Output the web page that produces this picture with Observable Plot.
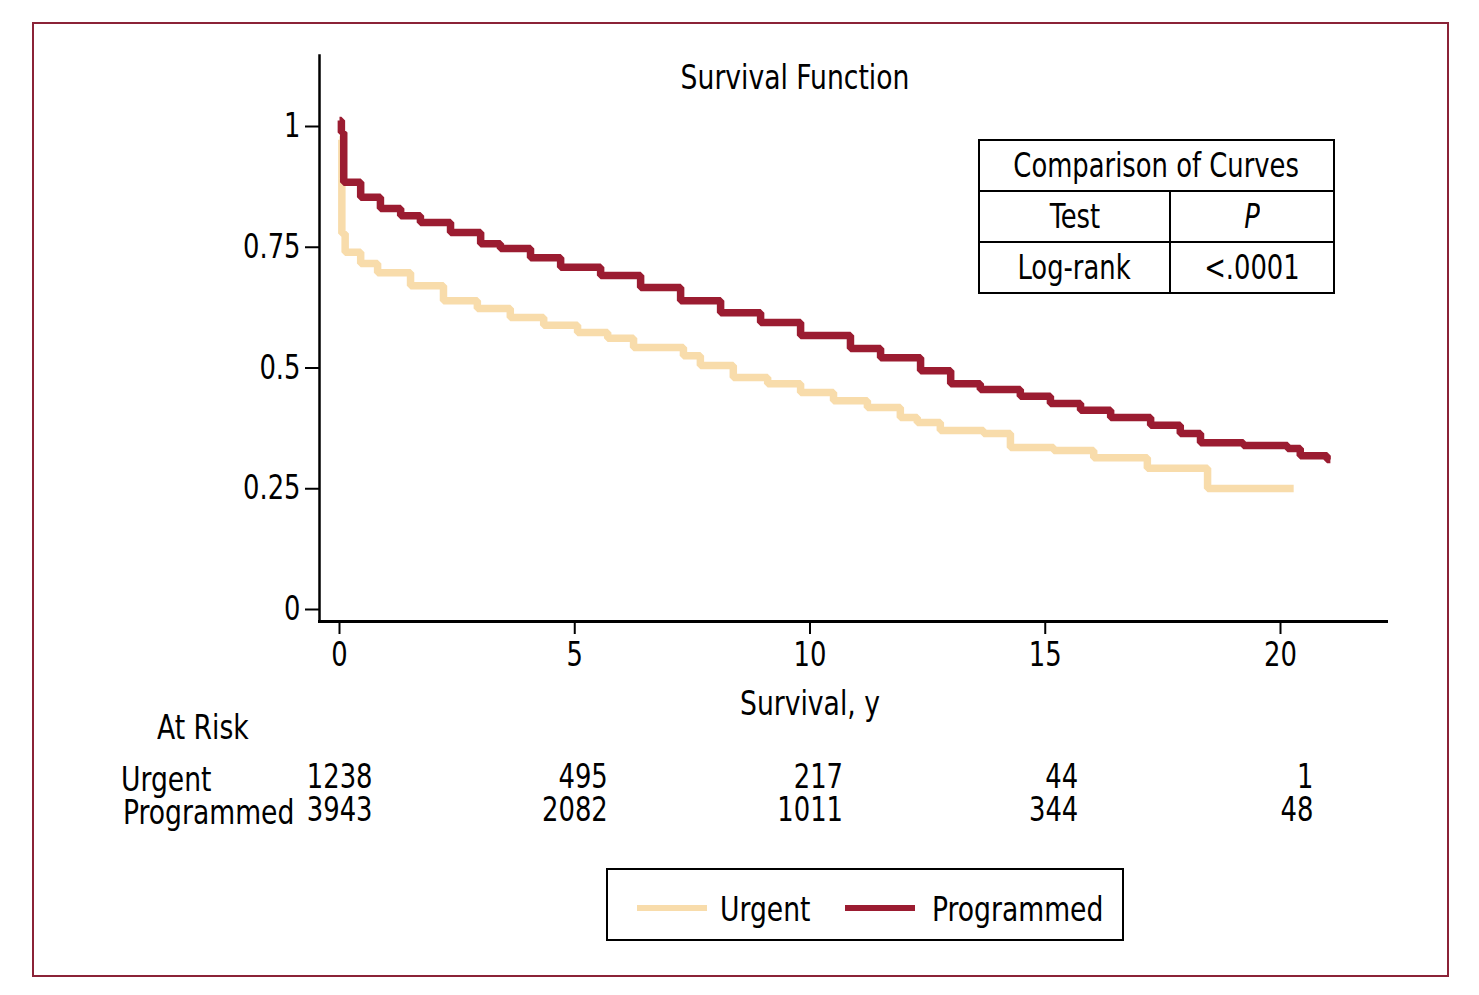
<!DOCTYPE html>
<html><head><meta charset="utf-8">
<script src="https://cdn.jsdelivr.net/npm/d3@7"></script>
<script src="https://cdn.jsdelivr.net/npm/@observablehq/plot@0.6"></script>
<style>
body{margin:0;background:#fff;}
#wrap{position:relative;width:1479px;height:995px;overflow:hidden;font-family:"Liberation Sans Narrow","Arial Narrow","DejaVu Sans Condensed",sans-serif;color:#000;}
#chart{position:absolute;left:0;top:0;}
#border{position:absolute;left:32px;top:22px;width:1413px;height:951px;border:2.5px solid #8b2337;pointer-events:none;}
.abs{position:absolute;white-space:nowrap;line-height:1;}
.sq{display:inline-block;transform:scaleX(0.87);transform-origin:center;white-space:nowrap;}
#cmp{position:absolute;left:978px;top:139px;border-collapse:collapse;font-size:33px;}
#cmp td{border:2px solid #000;text-align:center;padding:0;height:49px;}
#legend{position:absolute;left:606px;top:868px;width:514px;height:69px;border:2px solid #000;}
.sw{position:absolute;height:6px;width:70px;}
</style></head>
<body>
<div id="wrap">
  <div id="chart"></div>
  <div id="border"></div>
</div>
<script>
// ---- data ----
const groups = ["Urgent", "Programmed"];
const groupColors = ["#f8dcab", "#9b1c31"];

const urgentTime = [0, 0.05, 0.12, 0.45, 0.81, 1.51, 2.21, 2.93, 3.63, 4.34, 5.06, 5.70, 6.25, 7.31, 7.67, 8.37, 9.10, 9.80, 10.50, 11.22, 11.92, 12.28, 12.77, 13.69, 14.26, 15.18, 16.03, 17.17, 18.45, 20.28];
const urgentSurv = [0.96, 0.766, 0.727, 0.704, 0.685, 0.658, 0.627, 0.611, 0.592, 0.576, 0.561, 0.549, 0.530, 0.513, 0.493, 0.468, 0.455, 0.437, 0.420, 0.406, 0.385, 0.375, 0.358, 0.352, 0.323, 0.317, 0.302, 0.280, 0.238, 0.238];

const progTime = [0, 0.04, 0.09, 0.45, 0.87, 1.30, 1.72, 2.36, 3.00, 3.42, 4.06, 4.70, 5.55, 6.40, 7.25, 8.10, 8.95, 9.80, 10.86, 11.50, 12.35, 12.99, 13.62, 14.47, 15.11, 15.75, 16.39, 17.24, 17.87, 18.30, 19.21, 20.15, 20.42, 20.99, 21.06];
const progSurv = [1.0, 0.975, 0.872, 0.841, 0.818, 0.803, 0.789, 0.768, 0.745, 0.735, 0.716, 0.696, 0.679, 0.654, 0.627, 0.602, 0.582, 0.555, 0.528, 0.509, 0.482, 0.455, 0.443, 0.429, 0.414, 0.400, 0.385, 0.369, 0.352, 0.333, 0.327, 0.321, 0.306, 0.298, 0.298];

const xTicks = [0, 5, 10, 15, 20];
const yTicks = [0, 0.25, 0.5, 0.75, 1];
const yTickLabels = ["0", "0.25", "0.5", "0.75", "1"];
const atRiskTimes = [0, 5, 10, 15, 20];
const urgentAtRisk = [1238, 495, 217, 44, 1];
const programmedAtRisk = [3943, 2082, 1011, 344, 48];

const titleText = "Survival Function";
const xLabel = "Survival, y";
const atRiskLabel = "At Risk";
const cmpTitle = "Comparison of Curves";
const cmpHeader = ["Test", "P"];
const cmpRow = ["Log-rank", "<.0001"];

// ---- build tables ----
const survData = [
  ...urgentTime.map((t, i) => ({group: groups[0], t, s: urgentSurv[i]})),
  ...progTime.map((t, i) => ({group: groups[1], t, s: progSurv[i]}))
];
const riskData = [
  ...atRiskTimes.map((t, i) => ({row: groups[0], t, n: String(urgentAtRisk[i])})),
  ...atRiskTimes.map((t, i) => ({row: groups[1], t, n: String(programmedAtRisk[i])}))
];

const font = '"Liberation Sans Narrow","Arial Narrow","DejaVu Sans Condensed",sans-serif';
const W = 1479, H = 995;
const mL = 319, mT = 55, mR = W - 1386, mB = H - 621;
// pixel calibration: x 0 -> 339, 20 -> 1280; y 0 -> 603, 1 -> 120
const pxPerX = (1280 - 339) / 20, pxPerY = 603 - 120;
const xDomain = [-(339 - mL) / pxPerX, (W - mR - 339) / pxPerX];
const yDomain = [-(H - mB - 603) / pxPerY, (603 - mT) / pxPerY];

const plot = Plot.plot({
  width: W, height: H,
  marginLeft: mL, marginTop: mT, marginRight: mR, marginBottom: mB,
  style: {fontFamily: font, background: "transparent", color: "#000"},
  x: {domain: xDomain},
  y: {domain: yDomain},
  color: {domain: groups, range: groupColors},
  marks: [
    Plot.axisY({ticks: yTicks, tickFormat: (d) => yTickLabels[yTicks.indexOf(d)], tickSize: 14, tickPadding: 5, fontSize: 33, dy: 6, label: null, stroke: "#000", strokeWidth: 2}),
    Plot.axisX({ticks: xTicks, tickSize: 13, tickPadding: 8, fontSize: 33, label: null, strokeWidth: 2}),
    Plot.frame({anchor: "left", strokeWidth: 2.5}),
    Plot.frame({anchor: "bottom", strokeWidth: 3}),
    Plot.line(survData, {x: "t", y: "s", z: "group", stroke: "group", curve: "step-after", strokeWidth: 7.5, strokeLinejoin: "miter", strokeLinecap: "butt"}),
    Plot.text(riskData.filter(d => d.row === groups[0]), {x: "t", text: "n", frameAnchor: "bottom", dy: 166, dx: 33, textAnchor: "end", fontSize: 33}),
    Plot.text(riskData.filter(d => d.row === groups[1]), {x: "t", text: "n", frameAnchor: "bottom", dy: 199, dx: 33, textAnchor: "end", fontSize: 33})
  ]
});
document.getElementById("chart").appendChild(plot);

// condense SVG text to mimic a narrow typeface
plot.querySelectorAll("text").forEach(t => {
  const L = t.getComputedTextLength();
  if (L > 0) {
    t.setAttribute("textLength", (L * 0.87).toFixed(1));
    t.setAttribute("lengthAdjust", "spacingAndGlyphs");
  }
});

const wrap = document.getElementById("wrap");
function addText(txt, left, top, size, anchor) {
  const d = document.createElement("div");
  d.className = "abs";
  d.textContent = txt;
  d.style.left = left + "px"; d.style.top = top + "px"; d.style.fontSize = size + "px";
  d.style.transformOrigin = anchor === "middle" ? "0 0" : "0 0";
  d.style.transform = anchor === "middle" ? "scaleX(0.87) translateX(-50%)" : "scaleX(0.87)";
  wrap.appendChild(d);
  return d;
}
const xs = plot.scale("x");
addText(titleText, 795, 60, 34, "middle");
addText(xLabel, xs.apply(10), 686, 34, "middle");
addText(atRiskLabel, 157, 710, 34);
addText(groups[0], 121, 762, 34);
addText(groups[1], 123, 795, 34);

// comparison table
const tbl = document.createElement("table");
tbl.id = "cmp";
const esc = s => s.replace(/&/g, "&amp;").replace(/</g, "&lt;");
tbl.innerHTML = `<tr><td colspan="2" style="width:353px"><span class="sq">${esc(cmpTitle)}</span></td></tr>
<tr><td style="width:189px"><span class="sq">${esc(cmpHeader[0])}</span></td><td><span class="sq"><i>${esc(cmpHeader[1])}</i></span></td></tr>
<tr><td><span class="sq">${esc(cmpRow[0])}</span></td><td><span class="sq">${esc(cmpRow[1])}</span></td></tr>`;
wrap.appendChild(tbl);

// legend
const leg = document.createElement("div");
leg.id = "legend";
const legPos = [{sw: 29, tx: 112}, {sw: 237, tx: 324}];
groups.forEach((g, i) => {
  const s = document.createElement("div");
  s.className = "sw";
  s.style.left = legPos[i].sw + "px"; s.style.top = "35px"; s.style.background = groupColors[i];
  leg.appendChild(s);
  const t = document.createElement("div");
  t.className = "abs"; t.textContent = g;
  t.style.left = legPos[i].tx + "px"; t.style.top = "22px"; t.style.fontSize = "34px";
  t.style.transformOrigin = "0 0"; t.style.transform = "scaleX(0.87)";
  leg.appendChild(t);
});
wrap.appendChild(leg);
</script>
</body></html>
